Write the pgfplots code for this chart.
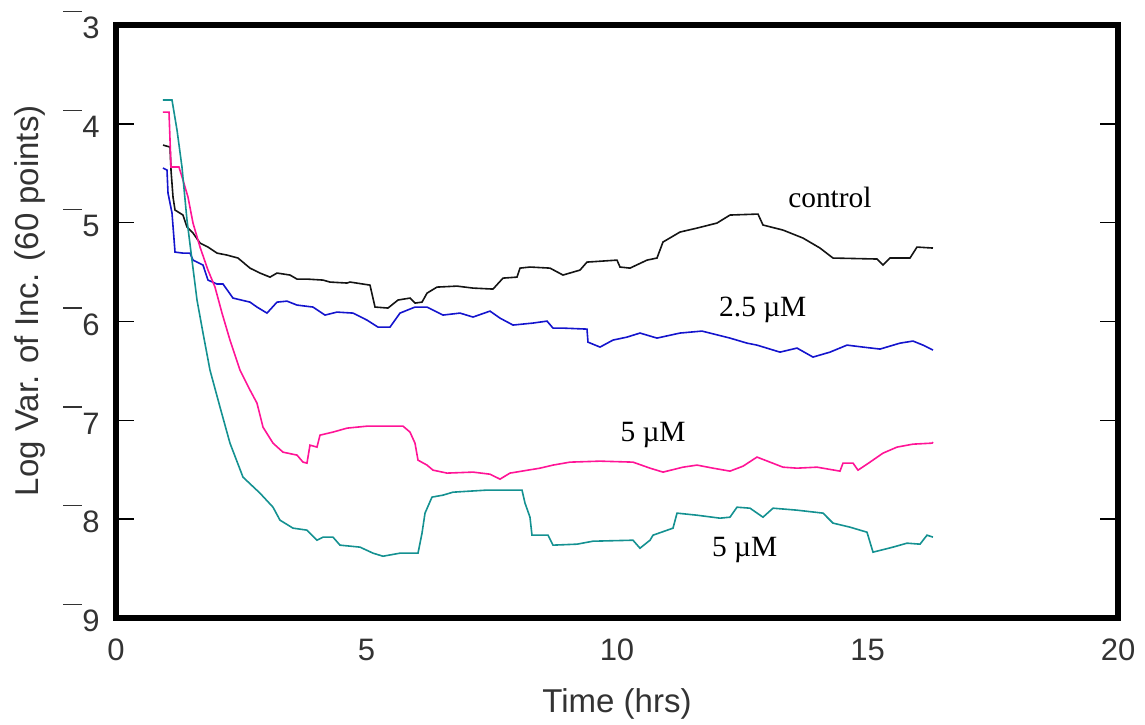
\documentclass[border=0pt]{standalone}
\usepackage{pgfplots}
\pgfplotsset{compat=1.18}
\usepackage{fontspec}
\setmainfont{Liberation Sans}
\newfontfamily\timesfont{Liberation Serif}

\definecolor{ctrlblack}{RGB}{20,20,20}
\definecolor{lowblue}{RGB}{20,20,205}
\definecolor{midpink}{RGB}{255,20,150}
\definecolor{hiteal}{RGB}{20,145,145}

\begin{document}
\begin{tikzpicture}
\begin{axis}[
  scale only axis,
  width=501pt, height=296.5pt,
  xmin=0, xmax=20, ymin=-9, ymax=-3,
  axis line style={line width=2.8pt, line join=miter},
  xtick={0,5,10,15,20},
  xticklabels={0,5,10,15,20},
  major x tick style={draw=none},
  ytick={-9,-8,-7,-6,-5,-4,-3},
  yticklabel={\pgfmathtruncatemacro\absv{abs(\tick)}\rule[0.86em]{0.62em}{0.6pt}\absv},
  tick align=inside,
  major tick length=9pt,
  major y tick style={line width=0.7pt, black},
  ticklabel style={font=\fontsize{15.5}{18}\selectfont, text=black!80},
  xticklabel style={yshift=-7pt},
  yticklabel style={inner sep=0pt, xshift=-8pt},
  xlabel={Time (hrs)},
  ylabel={Log Var. of Inc. (60 points)},
  label style={font=\fontsize{16.5}{19}\selectfont, text=black!80},
  xlabel style={at={(axis description cs:0.5,-0.145)}, anchor=center},
  ylabel style={at={(axis description cs:-0.086,0.535)}, anchor=center, rotate=0},
  every axis plot/.append style={line width=0.8pt},
  clip=false,
]

% control
\addplot[color=ctrlblack] coordinates {
(0.938,-4.215)(1.078,-4.235)(1.098,-4.468)(1.138,-4.741)(1.178,-4.872)(1.337,-4.923)
(1.417,-5.045)(1.537,-5.105)(1.677,-5.206)(1.836,-5.247)(2.016,-5.308)(2.216,-5.328)
(2.435,-5.358)(2.675,-5.460)(2.874,-5.510)(3.074,-5.551)(3.214,-5.510)(3.473,-5.530)
(3.613,-5.571)(3.812,-5.571)(4.132,-5.581)(4.271,-5.601)(4.611,-5.611)(4.671,-5.601)
(5.070,-5.632)(5.170,-5.854)(5.429,-5.864)(5.629,-5.783)(5.868,-5.763)(5.968,-5.814)
(6.108,-5.804)(6.208,-5.713)(6.407,-5.652)(6.806,-5.642)(7.126,-5.662)(7.525,-5.672)
(7.725,-5.561)(8.004,-5.551)(8.064,-5.460)(8.263,-5.449)(8.663,-5.460)(8.922,-5.530)
(9.261,-5.480)(9.401,-5.399)(10.000,-5.379)(10.060,-5.449)(10.259,-5.460)(10.599,-5.379)
(10.798,-5.358)(10.918,-5.196)(11.257,-5.095)(11.597,-5.055)(11.996,-5.004)(12.255,-4.923)
(12.814,-4.913)(12.914,-5.024)(13.313,-5.075)(13.713,-5.156)(14.052,-5.257)(14.311,-5.358)
(15.190,-5.368)(15.309,-5.429)(15.449,-5.358)(15.848,-5.358)(15.988,-5.247)(16.307,-5.257)
};

% 2.5 uM
\addplot[color=lowblue] coordinates {
(0.938,-4.447)(1.018,-4.468)(1.038,-4.700)(1.118,-4.903)(1.178,-5.298)(1.337,-5.308)
(1.477,-5.308)(1.537,-5.379)(1.737,-5.429)(1.836,-5.581)(2.016,-5.621)(2.136,-5.621)
(2.335,-5.763)(2.675,-5.804)(2.814,-5.854)(3.014,-5.915)(3.214,-5.804)(3.413,-5.794)
(3.613,-5.834)(3.932,-5.854)(4.172,-5.935)(4.411,-5.905)(4.731,-5.915)(5.010,-5.986)
(5.230,-6.057)(5.469,-6.057)(5.669,-5.915)(5.968,-5.854)(6.208,-5.854)(6.527,-5.935)
(6.866,-5.915)(7.126,-5.955)(7.465,-5.895)(7.665,-5.966)(7.924,-6.036)(8.323,-6.016)
(8.603,-5.996)(8.723,-6.067)(8.922,-6.067)(9.401,-6.077)(9.421,-6.209)(9.661,-6.259)
(9.920,-6.188)(10.200,-6.158)(10.459,-6.117)(10.798,-6.168)(11.257,-6.117)(11.697,-6.097)
(12.255,-6.168)(12.595,-6.219)(12.794,-6.239)(13.253,-6.310)(13.593,-6.269)(13.912,-6.360)
(14.251,-6.310)(14.591,-6.239)(14.910,-6.259)(15.250,-6.279)(15.649,-6.219)(15.908,-6.198)
(16.108,-6.239)(16.307,-6.289)
};

% 5 uM (upper)
\addplot[color=midpink] coordinates {
(0.938,-3.881)(1.058,-3.881)(1.098,-4.437)(1.257,-4.437)(1.337,-4.569)(1.437,-4.741)
(1.537,-5.004)(1.677,-5.247)(1.836,-5.480)(1.976,-5.652)(2.116,-5.915)(2.275,-6.188)
(2.475,-6.492)(2.675,-6.694)(2.814,-6.826)(2.934,-7.069)(3.134,-7.231)(3.333,-7.322)
(3.613,-7.352)(3.733,-7.423)(3.812,-7.433)(3.872,-7.251)(4.012,-7.271)(4.072,-7.150)
(4.331,-7.119)(4.611,-7.079)(5.010,-7.059)(5.729,-7.059)(5.868,-7.119)(5.968,-7.231)
(6.028,-7.403)(6.208,-7.453)(6.327,-7.504)(6.607,-7.534)(7.126,-7.524)(7.465,-7.545)
(7.665,-7.595)(7.864,-7.534)(8.463,-7.484)(8.723,-7.453)(9.062,-7.423)(9.661,-7.413)
(10.319,-7.423)(10.659,-7.484)(10.918,-7.524)(11.317,-7.474)(11.597,-7.453)(11.916,-7.484)
(12.255,-7.514)(12.515,-7.464)(12.794,-7.372)(13.054,-7.423)(13.313,-7.474)(13.593,-7.484)
(13.992,-7.474)(14.451,-7.514)(14.511,-7.433)(14.711,-7.433)(14.810,-7.504)(15.050,-7.423)
(15.309,-7.332)(15.589,-7.271)(15.908,-7.241)(16.287,-7.231)(16.307,-7.221)
};

% 5 uM (lower)
\addplot[color=hiteal] coordinates {
(0.938,-3.759)(1.118,-3.759)(1.218,-4.063)(1.317,-4.437)(1.417,-4.974)(1.517,-5.379)
(1.617,-5.783)(1.737,-6.117)(1.876,-6.492)(2.076,-6.866)(2.275,-7.231)(2.535,-7.575)
(2.874,-7.737)(3.134,-7.879)(3.273,-8.010)(3.533,-8.091)(3.812,-8.111)(4.012,-8.213)
(4.132,-8.182)(4.331,-8.182)(4.471,-8.263)(4.870,-8.283)(5.130,-8.344)(5.329,-8.375)
(5.669,-8.344)(6.028,-8.344)(6.108,-8.142)(6.168,-7.939)(6.307,-7.777)(6.527,-7.757)
(6.727,-7.727)(7.405,-7.706)(8.104,-7.706)(8.164,-7.838)(8.263,-7.980)(8.303,-8.162)
(8.623,-8.162)(8.723,-8.263)(9.202,-8.253)(9.521,-8.223)(10.319,-8.213)(10.459,-8.294)
(10.659,-8.213)(10.719,-8.162)(11.118,-8.091)(11.198,-7.939)(11.597,-7.960)(12.056,-7.990)
(12.255,-7.980)(12.395,-7.879)(12.655,-7.889)(12.914,-7.980)(13.114,-7.889)(13.593,-7.909)
(14.112,-7.939)(14.311,-8.040)(14.651,-8.081)(14.990,-8.132)(15.110,-8.334)(15.509,-8.283)
(15.788,-8.243)(16.048,-8.253)(16.188,-8.162)(16.307,-8.182)
};

% curve annotations
\begin{scope}[every node/.style={font=\timesfont\fontsize{14.7}{17}\selectfont, inner sep=0pt}]
\node at (axis cs:14.25,-4.74) {control};
\node at (axis cs:12.91,-5.88) {2.5 µM};
\node at (axis cs:10.72,-7.15) {5 µM};
\node at (axis cs:12.55,-8.31) {5 µM};
\end{scope}
\end{axis}
% page extent around the frame
\pgfresetboundingbox
\path[use as bounding box] ([shift={(-58pt,-53.5pt)}]current axis.south west)
  rectangle ([shift={(13.5pt,12.5pt)}]current axis.north east);
\end{tikzpicture}
\end{document}
